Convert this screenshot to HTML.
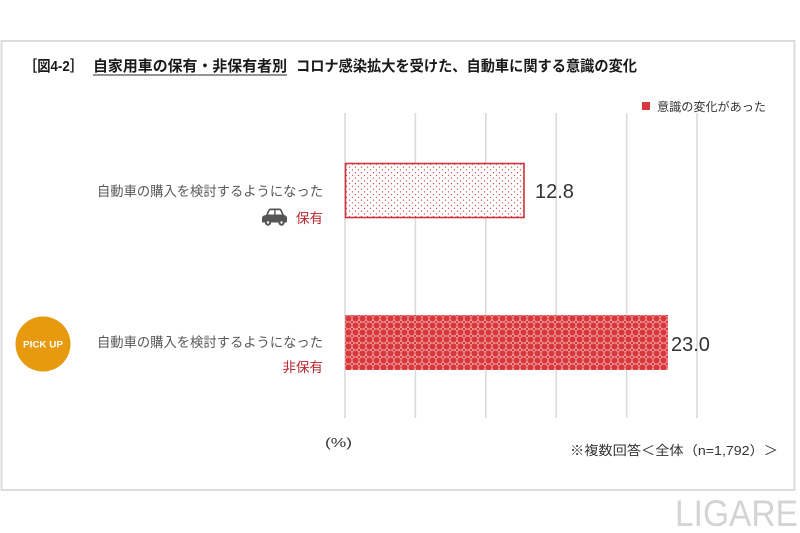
<!DOCTYPE html>
<html>
<head>
<meta charset="utf-8">
<style>
html,body{margin:0;padding:0;background:#fff;}
svg{display:block;}
text{font-family:"Liberation Sans","Noto Sans CJK JP",sans-serif;}
</style>
</head>
<body>
<svg width="800" height="533" viewBox="0 0 800 533" xmlns="http://www.w3.org/2000/svg">
<defs>
  <pattern id="dots" patternUnits="userSpaceOnUse" width="6" height="5.5" x="345" y="163">
    <rect width="6" height="5.5" fill="#fff"/>
    <circle cx="1.5" cy="1.4" r="0.65" fill="#c8454a"/>
    <circle cx="4.5" cy="4.1" r="0.65" fill="#c8454a"/>
  </pattern>
  <pattern id="lattice" patternUnits="userSpaceOnUse" width="7" height="7" x="345" y="315">
    <rect width="7" height="7" fill="#f3a9a9"/>
    <circle cx="3.5" cy="3.5" r="3.1" fill="#d8383c"/>
    <circle cx="0" cy="0" r="1.3" fill="#d8383c"/>
    <circle cx="7" cy="0" r="1.3" fill="#d8383c"/>
    <circle cx="0" cy="7" r="1.3" fill="#d8383c"/>
    <circle cx="7" cy="7" r="1.3" fill="#d8383c"/>
  </pattern>
</defs>

<!-- frame -->
<rect x="1.5" y="41" width="793" height="449" fill="#fff" stroke="#dcdcdc" stroke-width="2"/>

<!-- title -->
<text x="24" y="71" font-size="15" font-weight="bold" fill="#1a1a1a" textLength="59" lengthAdjust="spacingAndGlyphs">［図4-2］</text>
<text x="93" y="71" font-size="15" font-weight="bold" fill="#1a1a1a" textLength="194" lengthAdjust="spacingAndGlyphs">自家用車の保有・非保有者別</text>
<line x1="93" y1="75" x2="287" y2="75" stroke="#555" stroke-width="1.2"/>
<text x="296" y="71" font-size="15" font-weight="bold" fill="#1a1a1a" textLength="341" lengthAdjust="spacingAndGlyphs">コロナ感染拡大を受けた、自動車に関する意識の変化</text>

<!-- legend -->
<rect x="642" y="102" width="8" height="8" fill="#d8383c"/>
<text x="657" y="111" font-size="12" fill="#333" textLength="109" lengthAdjust="spacingAndGlyphs">意識の変化があった</text>

<!-- gridlines -->
<g stroke="#d9d9d9" stroke-width="1.5">
  <line x1="345" y1="113" x2="345" y2="418"/>
  <line x1="415.4" y1="113" x2="415.4" y2="418"/>
  <line x1="485.8" y1="113" x2="485.8" y2="418"/>
  <line x1="556.2" y1="113" x2="556.2" y2="418"/>
  <line x1="626.6" y1="113" x2="626.6" y2="418"/>
  <line x1="697" y1="113" x2="697" y2="418"/>
</g>

<!-- bars -->
<rect x="345.5" y="163.5" width="178.5" height="54" fill="url(#dots)" stroke="#d0343a" stroke-width="1.6"/>
<rect x="345" y="315" width="323" height="55" fill="url(#lattice)"/>

<!-- values -->
<text x="535" y="198" font-size="20" fill="#333">12.8</text>
<text x="671" y="351" font-size="20" fill="#333">23.0</text>

<!-- category labels -->
<text x="323" y="196" font-size="13.5" fill="#595959" text-anchor="end" textLength="226" lengthAdjust="spacingAndGlyphs">自動車の購入を検討するようになった</text>
<text x="323" y="223" font-size="13.5" fill="#b8262c" text-anchor="end">保有</text>

<text x="323" y="347" font-size="13.5" fill="#595959" text-anchor="end" textLength="226" lengthAdjust="spacingAndGlyphs">自動車の購入を検討するようになった</text>
<text x="323" y="372" font-size="13.5" fill="#b8262c" text-anchor="end">非保有</text>

<!-- car icon -->
<g fill="#555">
  <path d="M266 215 L268.5 209.5 Q269.2 208.5 270.5 208.5 L279.5 208.5 Q280.8 208.5 281.5 209.5 L284 215 Q287 215.5 287 218 L287 221.5 Q287 222.5 286 222.5 L263 222.5 Q262 222.5 262 221.5 L262 218 Q262 215.5 266 215 Z"/>
  <circle cx="268" cy="222.5" r="3.2"/>
  <circle cx="281.5" cy="222.5" r="3.2"/>
</g>
<g fill="#fff">
  <path d="M268 214.5 L270 210.3 L274.2 210.3 L274.2 214.5 Z"/>
  <path d="M275.6 214.5 L275.6 210.3 L280 210.3 L282 214.5 Z"/>
  <circle cx="268" cy="222.5" r="1.2"/>
  <circle cx="281.5" cy="222.5" r="1.2"/>
</g>

<!-- PICK UP badge -->
<circle cx="43" cy="344" r="27.5" fill="#e89a0e"/>
<text x="43" y="347.5" font-size="9.5" font-weight="bold" fill="#fff" text-anchor="middle" textLength="40" lengthAdjust="spacingAndGlyphs">PICK UP</text>

<!-- axis unit and note -->
<text x="325" y="447" font-size="13" fill="#333" textLength="27" lengthAdjust="spacingAndGlyphs">(%)</text>
<text x="570" y="455" font-size="13" fill="#333" textLength="208" lengthAdjust="spacingAndGlyphs">※複数回答＜全体（n=1,792）＞</text>

<!-- watermark -->
<text x="675" y="526" font-size="37" fill="#d4d4d4" textLength="123" lengthAdjust="spacingAndGlyphs">LIGARE</text>
</svg>
</body>
</html>
